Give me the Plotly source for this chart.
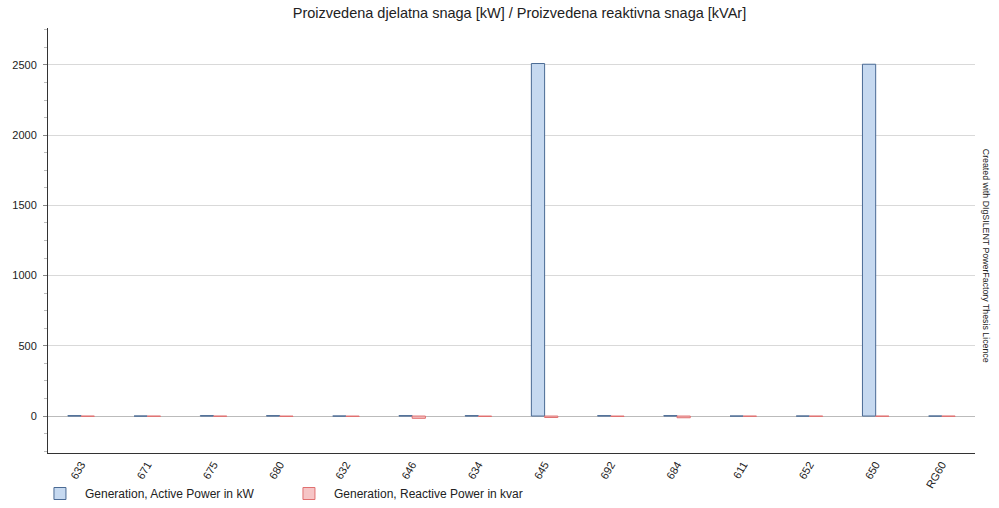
import plotly.graph_objects as go

# Bus names and generation per bus
buses = ['633', '671', '675', '680', '632', '646', '634', '645', '692', '684', '611', '652', '650', 'RG60']
active_kw = [3, 0, 3, 3, 0, 3, 3, 2510, 3, 3, 0, 0, 2505, 0]
reactive_kvar = [-2, -2, -2, -3, -3, -16, -3, -10, -3, -12, -2, -2, -2, -2]

font = 'Liberation Sans, Arial, sans-serif'

fig = go.Figure()
fig.add_trace(go.Bar(
    x=buses, y=active_kw,
    name='Generation, Active Power in kW',
    marker={'color': '#c6d9f0', 'line': {'color': '#4a6a94', 'width': 1}},
))
fig.add_trace(go.Bar(
    x=buses, y=reactive_kvar,
    name='Generation, Reactive Power in kvar',
    marker={'color': '#f6c5c6', 'line': {'color': '#e07070', 'width': 1}},
))

fig.update_layout(
    width=999, height=508,
    margin={'l': 48, 'r': 24, 't': 28, 'b': 55, 'autoexpand': False},
    paper_bgcolor='white', plot_bgcolor='white',
    font={'family': font, 'size': 11, 'color': '#222'},
    title={'text': 'Proizvedena djelatna snaga [kW] / Proizvedena reaktivna snaga [kVAr]',
           'x': 0.52, 'xanchor': 'center', 'y': 0.974, 'yanchor': 'middle',
           'font': {'size': 14.5, 'color': '#222'}},
    barmode='group', bargap=0.6, bargroupgap=0,
    showlegend=True,
    legend={'orientation': 'h', 'xref': 'container', 'yref': 'container',
            'x': 0.035, 'y': 0.0, 'xanchor': 'left', 'yanchor': 'bottom',
            'entrywidth': 194, 'entrywidthmode': 'pixels', 'itemwidth': 40,
            'font': {'size': 12, 'color': '#222'}},
)
fig.update_xaxes(
    tickangle=-60, showline=True, linecolor='#333', linewidth=1,
    showgrid=False, ticks='', tickfont={'size': 11}, automargin=False,
)
fig.update_yaxes(
    range=[-263, 2763], tickvals=[0, 500, 1000, 1500, 2000, 2500],
    showline=True, linecolor='#333', linewidth=1,
    showgrid=True, gridcolor='#d9d9d9', gridwidth=1,
    zeroline=True, zerolinecolor='#bbbbbb', zerolinewidth=1,
    ticks='outside', ticklen=4, tickcolor='#888',
    minor={'dtick': 125, 'ticks': 'outside', 'ticklen': 3, 'tickcolor': '#bbb', 'showgrid': False},
    tickfont={'size': 11}, automargin=False, ticklabelstandoff=4,
)
fig.add_annotation(
    text='Created with DIgSILENT PowerFactory Thesis Licence',
    xref='paper', yref='paper', x=1.0, y=0.464, xshift=18,
    textangle=90, showarrow=False, font={'size': 8.8, 'color': '#222'},
)

# drop the browser's default page margin so the figure sits at the top-left corner
fig.write_html('out.html', config={'displayModeBar': False},
               post_script="document.body.style.margin = '0';")
